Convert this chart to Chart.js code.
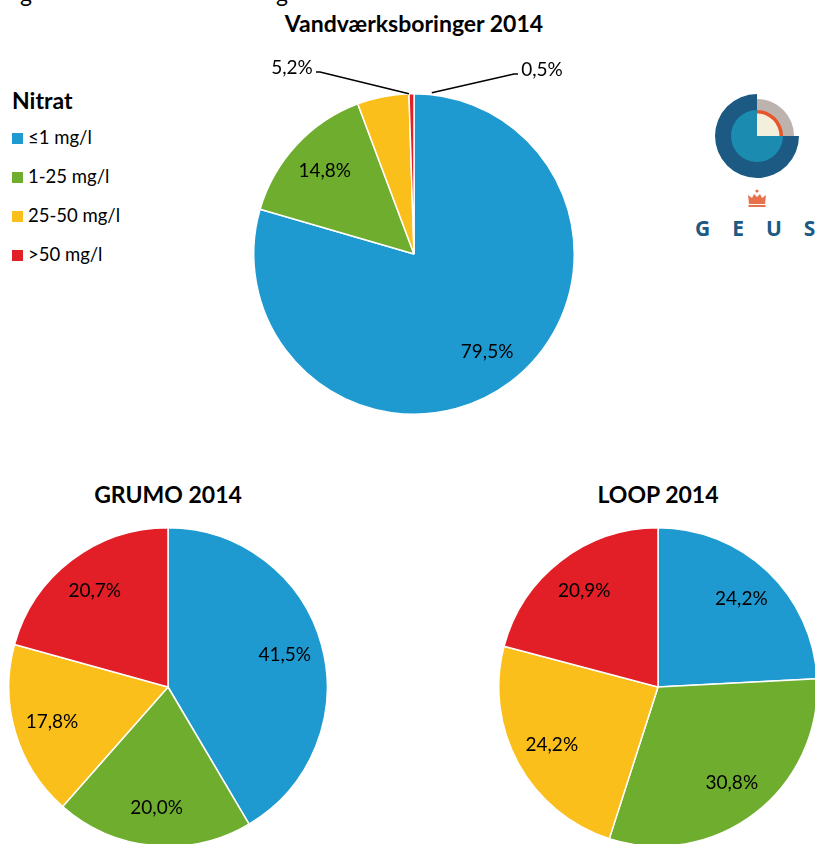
<!DOCTYPE html>
<html>
<head>
<meta charset="utf-8">
<script src="https://cdn.jsdelivr.net/npm/chart.js@4.4.1/dist/chart.umd.min.js"></script>
<style>
  html, body { margin: 0; padding: 0; background: #fff; }
  body { width: 815px; height: 844px; position: relative; overflow: hidden; font-family: Lato, "Open Sans", sans-serif; color: #000; }
  .title { position: absolute; font-weight: bold; font-size: 23px; text-align: center; width: 320px; }
  .box { position: absolute; }
  .legend { position: absolute; left: 12px; top: 86px; }
  .legend h3 { margin: 0 0 12px 0; font-size: 23px; font-weight: bold; }
  .legend div { font-size: 18.5px; height: 39px; line-height: 22px; }
  .legend span.sw { display: inline-block; width: 11px; height: 11px; margin-right: 5px; }
  .cut { position: absolute; top: -21px; font-size: 23px; }
  .geus { position: absolute; left: 695px; top: 214px; font-family: "Open Sans", sans-serif; font-weight: bold; font-size: 21px; letter-spacing: 22px; color: #1C5A84; }
</style>
</head>
<body>
<span class="cut" style="left:20px">g</span>
<span class="cut" style="left:276px">g</span>

<div class="title" style="left:254px; top:9px">Vandværksboringer 2014</div>
<div class="title" style="left:8px; top:480px">GRUMO 2014</div>
<div class="title" style="left:498px; top:480px">LOOP 2014</div>

<div class="legend" id="legend"><h3>Nitrat</h3></div>

<div class="box" style="left:243px; top:53px; width:342px; height:402px"><canvas id="vand"></canvas></div>
<div class="box" style="left:8px; top:527px; width:320px; height:320px"><canvas id="grumo"></canvas></div>
<div class="box" style="left:498px; top:527px; width:320px; height:320px"><canvas id="loop"></canvas></div>

<svg style="position:absolute; left:700px; top:85px" width="115" height="125" viewBox="0 0 115 125">
  <path d="M57 51 L57 9 A42 42 0 1 0 99 51 Z" fill="#1C5A84"/>
  <path d="M57 51 L57 14 A37 37 0 0 1 94 51 Z" fill="#BDB3AE"/>
  <path d="M57 51 L57 25 A26 26 0 1 0 83 51 Z" fill="#1B8CB0"/>
  <path d="M57 51 L57 25 A26 26 0 0 1 83 51 Z" fill="#E8552A"/>
  <path d="M57 51 L57 28.5 A22.5 22.5 0 0 1 79.5 51 Z" fill="#F3EFDC"/>
  <g fill="#E8704A">
    <circle cx="57" cy="106" r="1.6"/>
    <path d="M49 119 L48 110 L52 113 L54 109 L57 112 L60 109 L62 113 L66 110 L65 119 Z"/>
    <rect x="48.5" y="120" width="17" height="2"/>
  </g>
</svg>
<div class="geus">GEUS</div>

<script>
// categories and colours
const labels = ['≤1 mg/l', '1-25 mg/l', '25-50 mg/l', '>50 mg/l'];
const colors = ['#1F9AD0', '#6FAD2F', '#FBBF1B', '#E21E26'];

// values in percent
const vandValues = [79.5, 14.8, 5.2, 0.5];
const grumoValues = [41.5, 20.0, 17.8, 20.7];
const loopValues = [24.2, 30.8, 24.2, 20.9];

// legend
let legend = document.getElementById('legend');
for (let i = 0; i < labels.length; i++) {
    let d = document.createElement('div');
    d.innerHTML = '<span class="sw" style="background:' + colors[i] + '"></span>' + labels[i];
    legend.appendChild(d);
}

function fmt(v) {
    return v.toFixed(1).replace('.', ',') + '%';
}

// draws the percent labels, small slices get a label outside with a leader line
const pieLabels = {
    id: 'pieLabels',
    afterDatasetsDraw(chart, args, opts) {
        let ctx = chart.ctx;
        let meta = chart.getDatasetMeta(0);
        let values = chart.data.datasets[0].data;
        let outside = opts.outside || {};
        ctx.save();
        ctx.font = '19px Lato, "Open Sans", sans-serif';
        ctx.fillStyle = '#000';
        ctx.textAlign = 'center';
        ctx.textBaseline = 'middle';
        meta.data.forEach((arc, i) => {
            let p = arc.getProps(['x', 'y', 'startAngle', 'endAngle', 'outerRadius']);
            let mid = (p.startAngle + p.endAngle) / 2;
            if (outside[i]) {
                let o = outside[i];
                let tx = p.x + o.dx, ty = p.y + o.dy;
                ctx.fillText(fmt(values[i]), tx, ty);
                let a = p.endAngle + o.angle;
                let ex = p.x + Math.cos(a) * (p.outerRadius + o.gap);
                let ey = p.y + Math.sin(a) * (p.outerRadius + o.gap);
                ctx.strokeStyle = '#000';
                ctx.lineWidth = 1.5;
                ctx.beginPath();
                ctx.moveTo(tx + o.lx, ty + 4);
                ctx.lineTo(tx + o.lx + o.hook, ty + 4);
                ctx.lineTo(ex, ey);
                ctx.stroke();
            } else {
                let r = p.outerRadius * 0.76;
                ctx.fillText(fmt(values[i]), p.x + Math.cos(mid) * r, p.y + Math.sin(mid) * r);
            }
        });
        ctx.restore();
    }
};

function makePie(id, values, outside, padding) {
    let ctx = document.getElementById(id).getContext('2d');
    return new Chart(ctx, {
        type: 'pie',
        data: {
            labels: labels,
            datasets: [{
                data: values,
                backgroundColor: colors,
                borderColor: '#fff',
                borderWidth: 1.5
            }]
        },
        options: {
            responsive: true,
            maintainAspectRatio: false,
            animation: false,
            layout: { padding: padding },
            plugins: {
                legend: { display: false },
                tooltip: { enabled: false },
                pieLabels: { outside: outside }
            }
        },
        plugins: [pieLabels]
    });
}

makePie('vand', vandValues, {
    2: { dx: -122, dy: -186, lx: 24, hook: 4, angle: 0, gap: 0 },
    3: { dx: 128, dy: -184, lx: -24, hook: -4, angle: 0.11, gap: 2 }
}, { left: 10, right: 10, top: 40, bottom: 40 });
makePie('grumo', grumoValues, {}, 0);
makePie('loop', loopValues, {}, 0);
</script>
</body>
</html>
